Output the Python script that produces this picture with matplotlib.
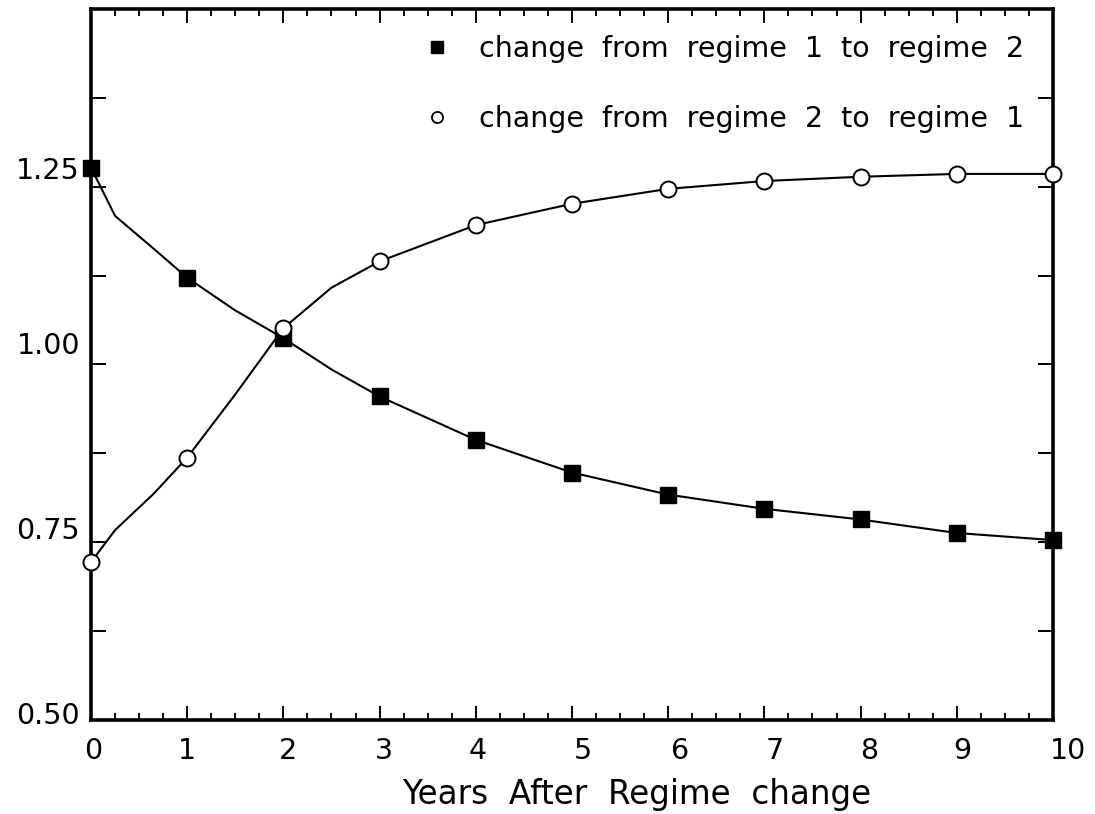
import matplotlib
matplotlib.use("Agg")
import matplotlib.pyplot as plt
from matplotlib.ticker import FixedLocator, MultipleLocator, FixedFormatter
from matplotlib.lines import Line2D
import matplotlib.transforms as mtransforms

# ---- data ----
years = [0, 1, 2, 3, 4, 5, 6, 7, 8, 9, 10]
change_1_to_2 = [1.277, 1.122, 1.037, 0.955, 0.894, 0.848, 0.817, 0.797, 0.782, 0.763, 0.753]
change_2_to_1 = [0.722, 0.869, 1.051, 1.145, 1.196, 1.226, 1.247, 1.258, 1.264, 1.268, 1.268]

curve_years = [0, 0.25, 0.65, 1, 1.5, 2, 2.5, 3, 4, 5, 6, 7, 8, 9, 10]
curve_1_to_2 = [1.277, 1.209, 1.163, 1.122, 1.076, 1.037, 0.993, 0.955, 0.894, 0.848, 0.817, 0.797, 0.782, 0.763, 0.753]
curve_2_to_1 = [0.722, 0.767, 0.818, 0.869, 0.958, 1.051, 1.108, 1.145, 1.196, 1.226, 1.247, 1.258, 1.264, 1.268, 1.268]

legend_labels = ["change  from  regime  1  to  regime  2",
                 "change  from  regime  2  to  regime  1"]
x_label = "Years  After  Regime  change"
xtick_vals = [0, 1, 2, 3, 4, 5, 6, 7, 8, 9, 10]
xtick_labels = ["0", "1", "2", "3", "4", "5", "6", "7", "8", "9", "10"]
ytick_vals = [0.50, 0.75, 1.00, 1.25]
ytick_labels = ["0.50", "0.75", "1.00", "1.25"]
yminor_vals = [0.625, 0.875, 1.125, 1.375]

plt.rcParams['font.family'] = ['DejaVu Sans']

fig = plt.figure(figsize=(10.95, 8.14), dpi=100)
ax = fig.add_axes([0.0831, 0.1155, 0.8785, 0.8735])

ax.plot(curve_years, curve_1_to_2, color='black', lw=1.5, zorder=2)
ax.plot(curve_years, curve_2_to_1, color='black', lw=1.5, zorder=2)
ax.plot(years, change_1_to_2, ls='none', marker='s', ms=11.5, mfc='black', mec='black',
        clip_on=False, zorder=3)
ax.plot(years, change_2_to_1, ls='none', marker='o', ms=11.5, mfc='white', mec='black',
        mew=1.4, clip_on=False, zorder=3)

ax.set_xlim(0, 10)
ax.set_ylim(0.5, 1.5)

ax.xaxis.set_major_locator(FixedLocator(xtick_vals))
ax.xaxis.set_major_formatter(FixedFormatter(xtick_labels))
ax.xaxis.set_minor_locator(MultipleLocator(0.25))
ax.yaxis.set_major_locator(FixedLocator(ytick_vals))
ax.yaxis.set_major_formatter(FixedFormatter(ytick_labels))
ax.yaxis.set_minor_locator(FixedLocator(yminor_vals))

ax.tick_params(axis='both', which='both', direction='in', top=True, right=True,
               color='black', width=1.4)
ax.tick_params(axis='x', which='major', length=10, labelsize=20.5, pad=12)
ax.tick_params(axis='x', which='minor', length=5)
ax.tick_params(axis='y', which='both', length=11)
ax.tick_params(axis='y', which='major', labelsize=20.5, pad=8)

for s in ax.spines.values():
    s.set_linewidth(2.6)

ax.set_xlabel(x_label, fontsize=23.5)
ax.xaxis.set_label_coords(0.567, -0.081)

handles = [Line2D([], [], ls='none', marker='s', ms=8, mfc='black', mec='black'),
           Line2D([], [], ls='none', marker='o', ms=8, mfc='white', mec='black', mew=1.3)]
ax.legend(handles, legend_labels, loc='upper right', bbox_to_anchor=(0.997, 1.0),
          frameon=False, fontsize=20.5, handlelength=0.6, handletextpad=1.2,
          labelspacing=1.5, borderaxespad=0.7, borderpad=0.2)

# label positions as in the original print (slightly shifted from the ticks)
y_shift_px = [7, 14, 21, 19]
for lab, dy in zip(ax.get_yticklabels(), y_shift_px):
    lab.set_transform(lab.get_transform() +
                      mtransforms.ScaledTranslation(0, dy / 100, fig.dpi_scale_trans))
x_shift_px = [2, 0, 5, 4, 2, 11, 12, 10, 9, 6, 15]
for lab, dx in zip(ax.get_xticklabels(), x_shift_px):
    lab.set_transform(lab.get_transform() +
                      mtransforms.ScaledTranslation(dx / 100, 0, fig.dpi_scale_trans))

fig.savefig("out.png", dpi=100)
